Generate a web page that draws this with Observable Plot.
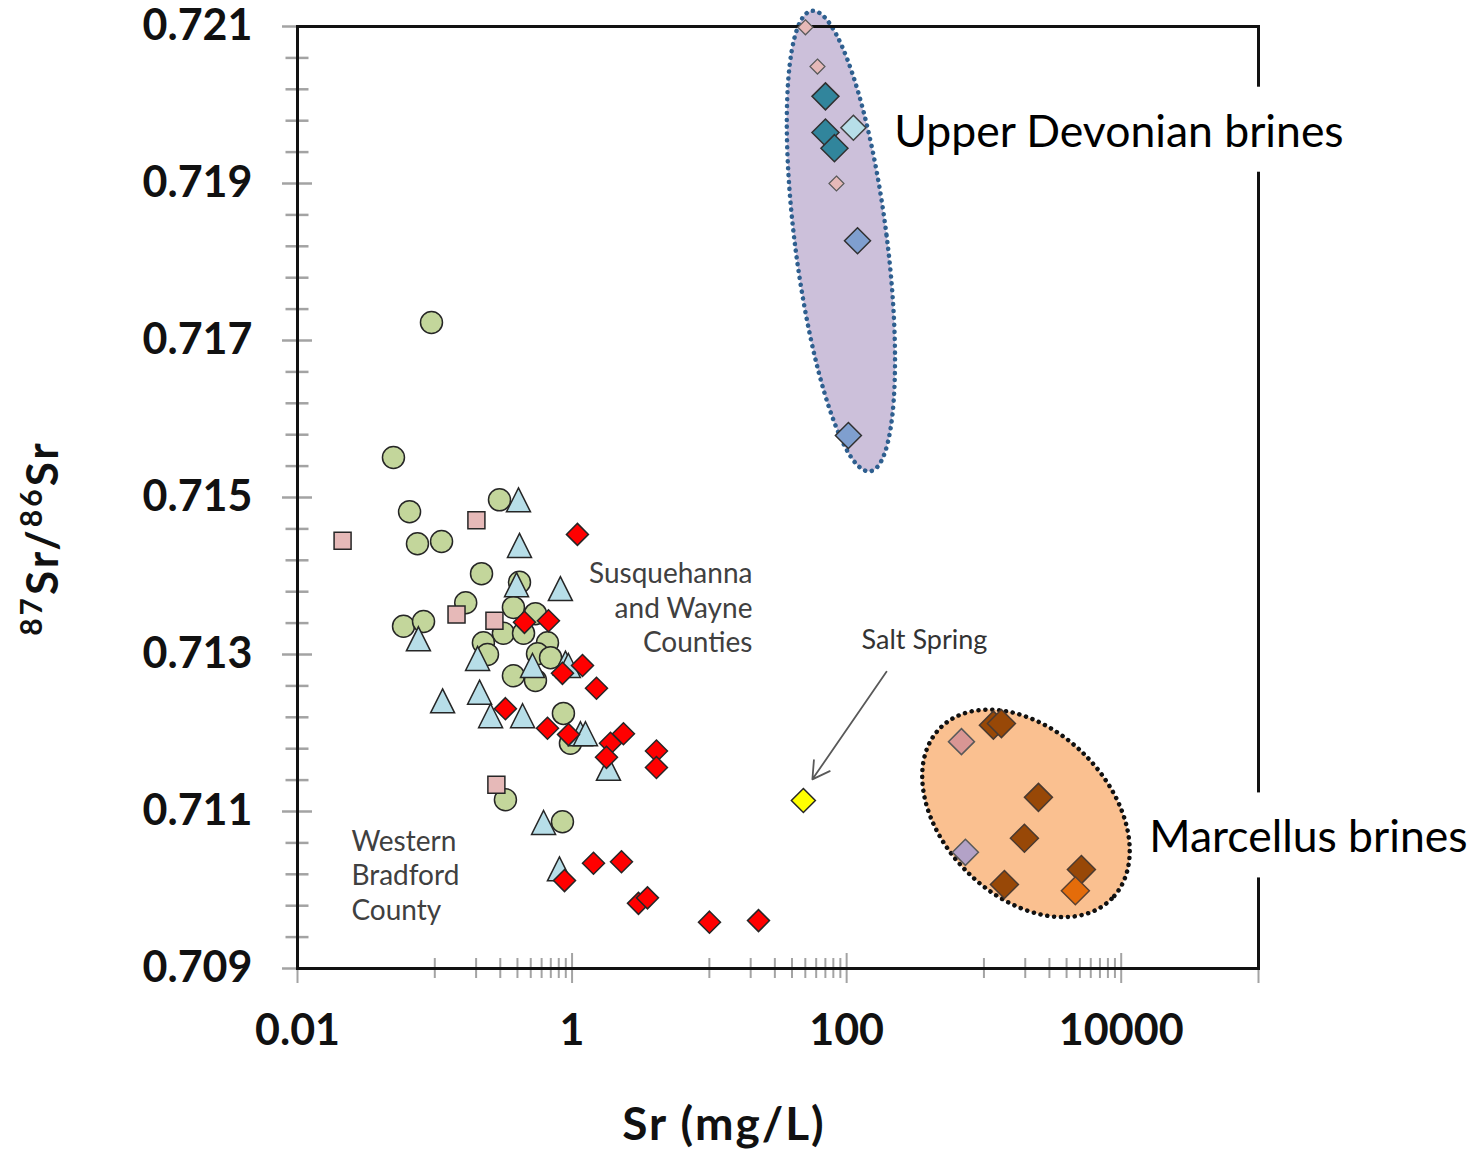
<!DOCTYPE html>
<html><head><meta charset="utf-8">
<script src="https://cdn.jsdelivr.net/npm/d3@7"></script>
<script src="https://cdn.jsdelivr.net/npm/@observablehq/plot@0.6"></script>
<style>
body{margin:0;background:#fff;}
#chart{width:1482px;height:1153px;}
</style></head><body><div id="chart"></div>
<script>
// ---- Data (Sr in mg/L, 87Sr/86Sr) ----
const circleSr = [0.0946,0.050,0.0655,0.0748,0.112,0.296,0.219,0.168,0.0592,0.0828,0.414,0.374,0.541,0.316,0.443,0.226,0.242,0.662,0.560,0.697,0.374,0.541,0.865,0.973,0.327,0.851];
const circleRatio = [0.71723,0.71551,0.71482,0.71441,0.71444,0.71497,0.71403,0.71366,0.71336,0.71342,0.71392,0.71360,0.71352,0.71327,0.71327,0.71315,0.71300,0.71315,0.71301,0.71296,0.71273,0.71267,0.71225,0.71187,0.71115,0.71087];
const triangleSr = [0.407,0.414,0.394,0.822,0.076,0.205,0.515,0.895,0.94,0.114,0.212,0.255,0.436,1.151,1.252,1.841,0.620,0.809];
const triangleRatio = [0.71497,0.71439,0.71389,0.71384,0.71320,0.71295,0.71286,0.71289,0.71286,0.71241,0.71252,0.71222,0.71222,0.71199,0.71199,0.71155,0.71086,0.71027];
const squareSr = [0.0213,0.201,0.144,0.272,0.281];
const squareRatio = [0.71445,0.71471,0.71351,0.71343,0.71134];
const redSr = [1.094,0.450,0.673,1.191,0.851,1.506,0.327,0.662,0.942,2.367,1.904,1.781,4.117,4.117,0.881,1.432,2.290,3.045,3.541,10.02,22.8];
const redRatio = [0.71453,0.71341,0.71343,0.71286,0.71276,0.71257,0.71231,0.71206,0.71198,0.71199,0.71187,0.71169,0.71177,0.71156,0.71012,0.71034,0.71036,0.70983,0.70990,0.70959,0.70961];
const saltSr = [48.4];
const saltRatio = [0.71114];
// Upper Devonian brines
const udPinkSr = [50.1,61.3,84.3];
const udPinkRatio = [0.72099,0.72049,0.71900];
const udTealSr = [70.1,70.1,81.5];
const udTealRatio = [0.72011,0.71965,0.71945];
const udCyanSr = [112];
const udCyanRatio = [0.71971];
const udBlueSr = [120,103];
const udBlueRatio = [0.71827,0.71579];
// Marcellus brines
const mPinkSr = [686];
const mPinkRatio = [0.71189];
const mLavSr = [733];
const mLavRatio = [0.71048];
const mBrownSr = [1172,1341,2495,1972,1410,5129];
const mBrownRatio = [0.71210,0.71212,0.71118,0.71066,0.71007,0.71026];
const mOrangeSr = [4634];
const mOrangeRatio = [0.70999];
// Ellipse centres (data units)
const ellipseSr = [91.6, 2041];
const ellipseRatio = [0.71826, 0.71097];
// Arrow (Salt Spring)
const arrowFrom = [195, 0.71278];
const arrowTo = [56.3, 0.71141];
// Ticks
const yMajorTicks = [0.709,0.711,0.713,0.715,0.717,0.719,0.721];
const yMinorTicks = [0.7094,0.7098,0.7102,0.7106,0.7114,0.7118,0.7122,0.7126,0.7134,0.7138,0.7142,0.7146,0.7154,0.7158,0.7162,0.7166,0.7174,0.7178,0.7182,0.7186,0.7194,0.7198,0.7202,0.7206];
const xMajorTicks = [0.01,1,100,10000,100000];
const xLabeledTicks = [0.01,1,100,10000];
const xMinorTicks = [0.1,0.2,0.3,0.4,0.5,0.6,0.7,0.8,0.9, 10,20,30,40,50,60,70,80,90, 1000,2000,3000,4000,5000,6000,7000,8000,9000];
// Annotations
const brineText = ["Upper Devonian brines","Marcellus brines"];
const brineSr = [222,16000];
const brineRatio = [0.71965,0.71066];
const noteText = ["Susquehanna\nand Wayne\nCounties","Western\nBradford\nCounty","Salt Spring"];
const noteSr = [20.6,0.0247,369];
const noteRatio = [0.71361,0.71020,0.71318];
const noteAnchor = ["end","start","middle"];

const zip = (xs, ys) => xs.map((x,i) => ({x, y: ys[i]}));

// Excel-like marker shapes; r = half width in px
const diamondSym = {draw(ctx,size){const h=Math.sqrt(size/Math.PI);ctx.moveTo(0,-h);ctx.lineTo(h,0);ctx.lineTo(0,h);ctx.lineTo(-h,0);ctx.closePath();}};
const squareSym = {draw(ctx,size){const h=Math.sqrt(size/Math.PI);ctx.rect(-h,-h,2*h,2*h);}};
const triSym = {draw(ctx,size){const h=Math.sqrt(size/Math.PI);ctx.moveTo(0,-h);ctx.lineTo(h,h);ctx.lineTo(-h,h);ctx.closePath();}};

const ol = "#262626";
const dot = (xs, ys, symbol, r, fill, stroke=ol, sw=1.5) =>
  Plot.dot(zip(xs, ys), {x:"x", y:"y", symbol, r, fill, stroke, strokeWidth: sw});

function ellipseMark(i, rx, ry, angle, fill, stroke, sw, dash) {
  return (index, scales) => {
    const cx = scales.x(ellipseSr[i]), cy = scales.y(ellipseRatio[i]);
    const e = document.createElementNS("http://www.w3.org/2000/svg","ellipse");
    e.setAttribute("cx", 0); e.setAttribute("cy", 0);
    e.setAttribute("rx", rx); e.setAttribute("ry", ry);
    e.setAttribute("transform", `translate(${cx},${cy}) rotate(${angle})`);
    e.setAttribute("fill", fill); e.setAttribute("stroke", stroke);
    e.setAttribute("stroke-width", sw); e.setAttribute("stroke-dasharray", dash);
    e.setAttribute("stroke-linecap", "round");
    return e;
  };
}

const noteData = noteText.map((t,i) => ({t, x: noteSr[i], y: noteRatio[i], a: noteAnchor[i]}));
const tickGray = "#a3a3a3";
const chart = Plot.plot({
  width: 1482, height: 1153,
  marginLeft: 297, marginRight: 224, marginTop: 26, marginBottom: 185,
  x: {type: "log", domain: [0.01, 100000]},
  y: {domain: [0.709, 0.721]},
  style: {fontFamily: "Lato, 'Open Sans', sans-serif", background: "white", overflow: "visible"},
  marks: [
    ellipseMark(0, 46, 232, -7.2, "#ccc0da", "#2e5f8f", 4.5, "0.1 6.8"),
    ellipseMark(1, 121, 83, 45, "#fac090", "#111", 4.5, "0.1 6.8"),
    Plot.axisY({ticks: yMinorTicks, anchor: "left", tickSize: 23, dx: 11.5, stroke: tickGray, strokeWidth: 2.5, fill: "none", label: null}),
    Plot.axisY({ticks: yMajorTicks, anchor: "left", tickSize: 30, dx: 15, tickPadding: 30, stroke: tickGray, strokeWidth: 2.5,
      fill: "#111", fontSize: 43, fontWeight: "bold", tickFormat: d3.format(".3f"), label: null}),
    Plot.axisX({ticks: xMinorTicks, anchor: "bottom", tickSize: 20, dy: -10, stroke: tickGray, strokeWidth: 2, fill: "none", label: null}),
    Plot.axisX({ticks: xMajorTicks, anchor: "bottom", tickSize: 30, dy: -15, tickPadding: 31, stroke: tickGray, strokeWidth: 2,
      fill: "#111", fontSize: 43, fontWeight: "bold", tickFormat: d => xLabeledTicks.includes(d) ? d3.format("~g")(d) : "", label: null}),
    Plot.frame({stroke: "#111", strokeWidth: 3}),
    dot(circleSr, circleRatio, "circle", 11, "#c3d69b"),
    dot(triangleSr, triangleRatio, triSym, 12, "#b7dee8"),
    dot(squareSr, squareRatio, squareSym, 8.5, "#e6b9b8"),
    dot(redSr, redRatio, diamondSym, 11, "#ff0000"),
    dot(saltSr, saltRatio, diamondSym, 12, "#ffff00"),
    dot(udPinkSr, udPinkRatio, diamondSym, 7.5, "#e6b9b8", "#595959", 1.2),
    dot(udTealSr, udTealRatio, diamondSym, 13.5, "#31859c", "#303030"),
    dot(udCyanSr, udCyanRatio, diamondSym, 12.5, "#b7dee8", "#404040"),
    dot(udBlueSr, udBlueRatio, diamondSym, 13, "#7f9fcf", "#303030"),
    dot(mPinkSr, mPinkRatio, diamondSym, 13, "#d99694", "#595959"),
    dot(mLavSr, mLavRatio, diamondSym, 13, "#b3a2c7", "#595959"),
    dot(mBrownSr, mBrownRatio, diamondSym, 14, "#984807", "#4a3a30"),
    dot(mOrangeSr, mOrangeRatio, diamondSym, 14, "#e46c0a", "#5a4030"),
    Plot.arrow([{x1: arrowFrom[0], y1: arrowFrom[1], x2: arrowTo[0], y2: arrowTo[1]}],
      {x1:"x1", y1:"y1", x2:"x2", y2:"y2", stroke: "#595959", strokeWidth: 1.8, headLength: 16}),
    Plot.text(noteData.filter(d => d.a === "end"),
      {x:"x", y:"y", text:"t", textAnchor:"end", lineHeight: 1.23, fontSize: 28, fill: "#404040"}),
    Plot.text(noteData.filter(d => d.a === "start"),
      {x:"x", y:"y", text:"t", textAnchor:"start", lineHeight: 1.23, fontSize: 28, fill: "#404040"}),
    Plot.text(noteData.filter(d => d.a === "middle"),
      {x:"x", y:"y", text:"t", textAnchor:"middle", fontSize: 27, fill: "#333"}),
    Plot.text(brineText.map((t,i) => ({t, x: brineSr[i], y: brineRatio[i]})),
      {x:"x", y:"y", text:"t", textAnchor:"start", fontSize: 44.5, fill: "#000", className: "brine-label"})
  ]
});

document.getElementById("chart").appendChild(chart);

// white boxes behind the brine labels (they hide the plot border, as in the original)
const svg = d3.select(chart);
svg.selectAll(".brine-label text").each(function() {
  const b = this.getBBox();
  d3.select(this.parentNode).insert("rect", () => this)
    .attr("transform", this.getAttribute("transform"))
    .attr("x", b.x - 6).attr("y", b.y - 16).attr("width", b.width + 12).attr("height", b.height + 32)
    .attr("fill", "white");
});

// axis titles
const yl = svg.append("text")
  .attr("transform", "translate(58,538) rotate(-90)")
  .attr("text-anchor", "middle")
  .attr("font-family", "Lato, sans-serif").attr("font-weight", "bold")
  .attr("font-size", 44).attr("letter-spacing", 3).attr("fill", "#111");
yl.append("tspan").attr("font-size", 30).attr("dy", -16).text("87");
yl.append("tspan").attr("dy", 16).text("Sr/");
yl.append("tspan").attr("font-size", 30).attr("dy", -16).text("86");
yl.append("tspan").attr("dy", 16).text("Sr");

svg.append("text")
  .attr("x", 724).attr("y", 1140)
  .attr("text-anchor", "middle")
  .attr("font-family", "Lato, sans-serif").attr("font-weight", "bold")
  .attr("font-size", 46).attr("letter-spacing", 2).attr("fill", "#111")
  .text("Sr (mg/L)");
</script>
</body></html>
